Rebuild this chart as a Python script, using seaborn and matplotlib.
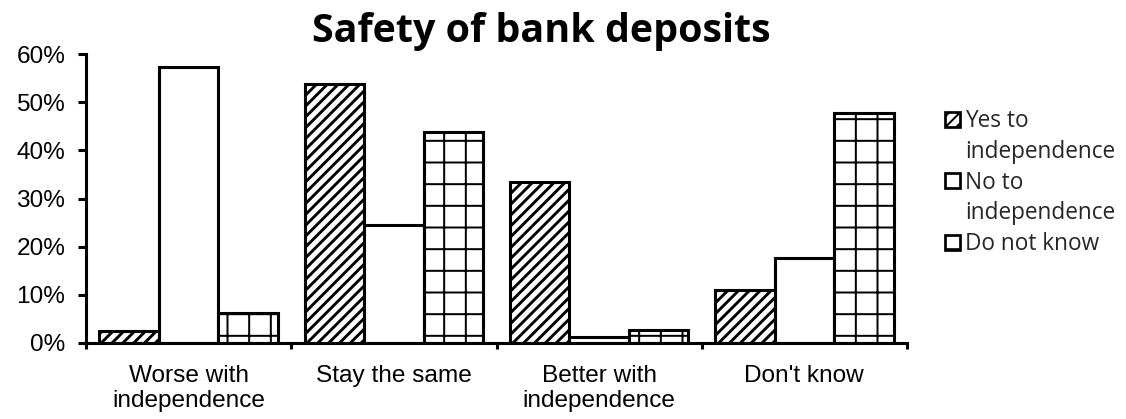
import matplotlib
matplotlib.use("Agg")
import matplotlib.pyplot as plt
import seaborn as sns
import pandas as pd
from matplotlib.patches import Patch
from matplotlib.ticker import PercentFormatter, FixedLocator

categories = ["Worse with\nindependence", "Stay the same", "Better with\nindependence", "Don't know"]
series_names = ["Yes to independence", "No to independence", "Do not know"]
legend_lines = [["Yes to", "independence"], ["No to", "independence"], ["Do not know"]]
yes_values = [0.024, 0.538, 0.334, 0.109]
no_values = [0.572, 0.246, 0.012, 0.176]
dk_values = [0.063, 0.439, 0.026, 0.478]
y_ticks = [0.0, 0.1, 0.2, 0.3, 0.4, 0.5, 0.6]

rows = []
for name, vals in zip(series_names, [yes_values, no_values, dk_values]):
    for cat, v in zip(categories, vals):
        rows.append({"category": cat, "series": name, "share": v})
df = pd.DataFrame(rows)

sns.set_theme(style="white")
plt.rcParams["hatch.linewidth"] = 1.1
plt.rcParams["hatch.color"] = "black"

DPI = 130
fig = plt.figure(figsize=(1126 / DPI, 419 / DPI), dpi=DPI)
ax = fig.add_axes([0.0764, 0.1814, 0.8055 - 0.0764, 0.8711 - 0.1814])

sns.barplot(data=df, x="category", y="share", hue="series", order=categories,
            hue_order=series_names, width=0.87, gap=0, ax=ax, legend=False,
            errorbar=None)

hatches = ["////", "", "+"]
hatch_widths = [1.6, 1.1, 1.1]
edge_lw = 1.7
for container, hatch, hw in zip(ax.containers, hatches, hatch_widths):
    for bar in container:
        bar.set_facecolor("white")
        bar.set_edgecolor("black")
        bar.set_linewidth(edge_lw)
        bar.set_hatch(hatch)
        if hasattr(bar, "set_hatch_linewidth"):
            bar.set_hatch_linewidth(hw)

ax.set_xlim(-0.5, 3.5)
ax.set_ylim(0, 0.6)
ax.set_yticks(y_ticks)
ax.yaxis.set_major_formatter(PercentFormatter(1.0, decimals=0))
ax.set_xlabel("")
ax.set_ylabel("")

for side in ["top", "right"]:
    ax.spines[side].set_visible(False)
for side in ["left", "bottom"]:
    ax.spines[side].set_linewidth(1.7)
    ax.spines[side].set_color("black")

ax.tick_params(axis="y", which="major", direction="out", length=4.5, width=1.7,
               color="black", pad=7, left=True)
ax.tick_params(axis="x", which="major", length=0, pad=12)
ax.xaxis.set_minor_locator(FixedLocator([-0.5, 0.5, 1.5, 2.5, 3.5]))
ax.tick_params(axis="x", which="minor", direction="out", length=3.5, width=1.7,
               color="black", bottom=True)
for lbl in ax.get_yticklabels() + ax.get_xticklabels():
    lbl.set_fontfamily("Liberation Sans")
    lbl.set_fontsize(13.5)
    lbl.set_color("black")
for lbl in ax.get_xticklabels():
    lbl.set_linespacing(1.2)

fig.text(541 / 1126, 1 - 42 / 419, "Safety of bank deposits", ha="center", va="baseline",
         fontfamily="Open Sans", fontweight="bold", fontsize=21.8, color="black")

# Legend: each series gets a swatch beside its first line; wrapped lines carry no swatch
handles, labels = [], []
for hatch, hw, lines in zip(hatches, hatch_widths, legend_lines):
    for i, line in enumerate(lines):
        if i == 0:
            h = Patch(facecolor="white", edgecolor="black", hatch=hatch, linewidth=1.5)
            if hasattr(h, "set_hatch_linewidth"):
                h.set_hatch_linewidth(hw)
        else:
            h = Patch(facecolor="none", edgecolor="none")
        handles.append(h)
        labels.append(line)
leg = fig.legend(handles, labels, loc="upper left",
                 bbox_to_anchor=(945 / 1126, 1 - 109 / 419), frameon=False,
                 handlelength=0.65, handleheight=0.65, handletextpad=0.25,
                 labelspacing=0.3, borderpad=0, borderaxespad=0,
                 prop={"family": "Open Sans", "size": 12.5})

fig.savefig("out.png", dpi=DPI)
